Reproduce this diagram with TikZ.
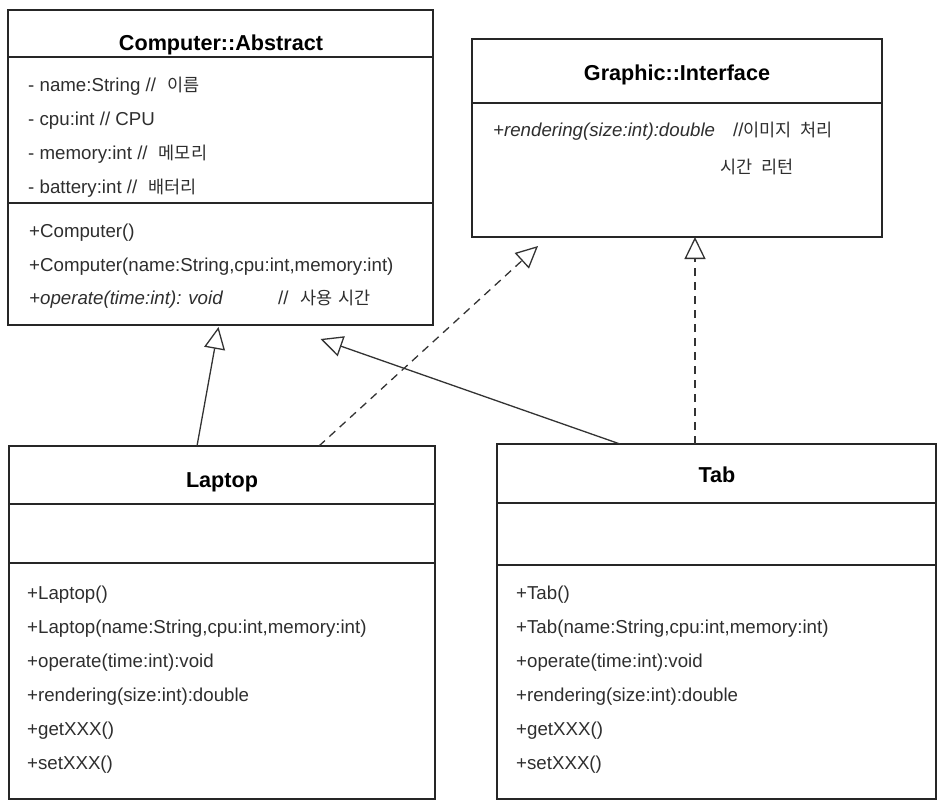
\documentclass[tikz,border=0pt]{standalone}
\usepackage{fontspec}
\setmainfont{Liberation Sans}
\newfontfamily\hanfont{Noto Sans CJK KR}
\usetikzlibrary{arrows.meta, positioning}
\newcommand{\kortext}[1]{{\hanfont\fontsize{17.5}{20}\selectfont #1}}
\tikzstyle{classbox}  = [rectangle, draw=black!85, line width=1.6pt, outer sep=0pt,
                         inner sep=0pt, anchor=north west]
\tikzstyle{classname} = [anchor=base, inner sep=0pt, text=black,
                         font=\fontsize{21.6}{24}\selectfont\bfseries]
\tikzstyle{member}    = [anchor=base west, inner sep=0pt, text=black!82,
                         font=\fontsize{18.7}{22}\selectfont]
\tikzstyle{inherit}   = [line width=1.3pt, draw=black!80,
                         -{Triangle[open, length=22pt, width=21pt]}]
\tikzstyle{realize}   = [inherit, dash pattern=on 8pt off 6pt]

\begin{document}
\begin{tikzpicture}[x=1pt, y=-1pt]
  \useasboundingbox (0,0) rectangle (943,804);

  % Computer::Abstract
  \node (comp-head) [classbox, minimum width=425pt, minimum height=47pt] at (8,10) {};
  \node (comp-attr) [classbox, minimum width=425pt, minimum height=146pt, below=0pt of comp-head] {};
  \node (comp-meth) [classbox, minimum width=425pt, minimum height=122pt, below=0pt of comp-attr] {};
  \node (comp-name) [classname] at (221,50.5) {Computer::Abstract};
  \node (comp-a1) [member] at (28,91.5)  {- name:String // \hspace{6pt}\kortext{이름}};
  \node (comp-a2) [member] at (28,125.5) {- cpu:int // CPU};
  \node (comp-a3) [member] at (28,159.5) {- memory:int // \hspace{6pt}\kortext{메모리}};
  \node (comp-a4) [member] at (28,193.5) {- battery:int // \hspace{6pt}\kortext{배터리}};
  \node (comp-m1) [member] at (29,237.5) {+Computer()};
  \node (comp-m2) [member] at (29,271.5) {+Computer(name:String,cpu:int,memory:int)};
  \node (comp-m3) [member] at (29,304.5) {\makebox[249pt][l]{\itshape +operate(time:int): void}//\hspace{12pt}\kortext{사용\hspace{6pt}시간}};

  % Graphic::Interface
  \node (gfx-head) [classbox, minimum width=410pt, minimum height=64pt] at (472,39) {};
  \node (gfx-body) [classbox, minimum width=410pt, minimum height=134pt, below=0pt of gfx-head] {};
  \node (gfx-name) [classname] at (677,80.7) {Graphic::Interface};
  \node (gfx-m1) [member] at (493,136.5) {\makebox[240pt][l]{\itshape +rendering(size:int):double}//\kortext{이미지\hspace{9pt}처리}};
  \node (gfx-m1b) [member] at (720,173.5) {\kortext{시간\hspace{9pt}리턴}};

  % Laptop
  \node (lap-head) [classbox, minimum width=426pt, minimum height=58pt] at (9,446) {};
  \node (lap-attr) [classbox, minimum width=426pt, minimum height=59pt, below=0pt of lap-head] {};
  \node (lap-meth) [classbox, minimum width=426pt, minimum height=236pt, below=0pt of lap-attr] {};
  \node (lap-name) [classname] at (222,487.7) {Laptop};
  \node (lap-m1) [member] at (27,599.5) {+Laptop()};
  \node (lap-m2) [member] at (27,633.5) {+Laptop(name:String,cpu:int,memory:int)};
  \node (lap-m3) [member] at (27,667.5) {+operate(time:int):void};
  \node (lap-m4) [member] at (27,701)   {+rendering(size:int):double};
  \node (lap-m5) [member] at (27,735)   {+getXXX()};
  \node (lap-m6) [member] at (27,769)   {+setXXX()};

  % Tab
  \node (tab-head) [classbox, minimum width=439pt, minimum height=59pt] at (497,444) {};
  \node (tab-attr) [classbox, minimum width=439pt, minimum height=62pt, below=0pt of tab-head] {};
  \node (tab-meth) [classbox, minimum width=439pt, minimum height=234pt, below=0pt of tab-attr] {};
  \node (tab-name) [classname] at (717,482.7) {Tab};
  \node (tab-m1) [member] at (516,599.5) {+Tab()};
  \node (tab-m2) [member] at (516,633.5) {+Tab(name:String,cpu:int,memory:int)};
  \node (tab-m3) [member] at (516,667.5) {+operate(time:int):void};
  \node (tab-m4) [member] at (516,701)   {+rendering(size:int):double};
  \node (tab-m5) [member] at (516,735)   {+getXXX()};
  \node (tab-m6) [member] at (516,769)   {+setXXX()};

  % arrow tips
  \coordinate (comp-tip1) at ([xshift=-2pt, yshift=-2pt]comp-meth.south);
  \coordinate (comp-tip2) at ([xshift=100pt, yshift=-14pt]comp-meth.south);
  \coordinate (gfx-tip1)  at ([xshift=-139pt, yshift=-9pt]gfx-body.south);
  \coordinate (gfx-tip2)  at ([xshift=18pt]gfx-body.south);

  % Laptop -> Computer
  \draw[inherit] ([xshift=-25pt]lap-head.north) -- (comp-tip1);
  % Laptop -> Graphic
  \draw[realize] ([xshift=97pt]lap-head.north) -- (gfx-tip1);
  % Tab -> Computer
  \draw[inherit] ([xshift=-96.5pt]tab-head.north) -- (comp-tip2);
  % Tab -> Graphic
  \draw[realize] ([xshift=-21.5pt]tab-head.north) -- (gfx-tip2);

\end{tikzpicture}
\end{document}
